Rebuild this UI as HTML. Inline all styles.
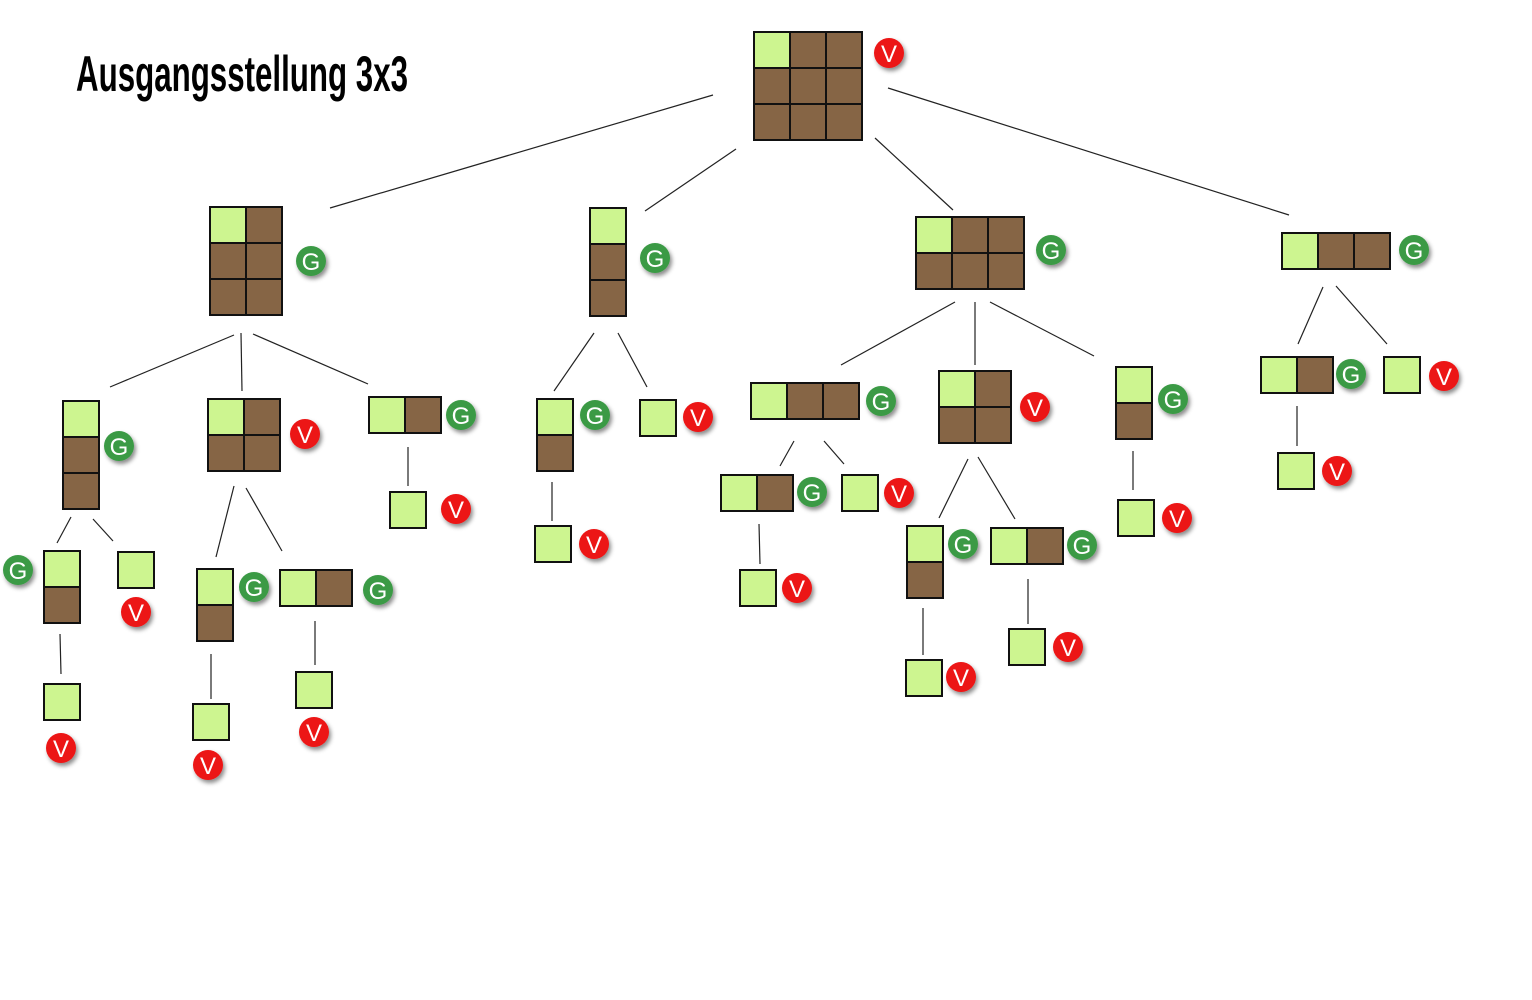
<!DOCTYPE html>
<html><head><meta charset="utf-8"><style>body{margin:0;background:#fff}svg{display:block}</style></head><body>
<svg width="1532" height="1000" viewBox="0 0 1532 1000" xmlns="http://www.w3.org/2000/svg">
<defs>
<filter id="sh" x="-50%" y="-50%" width="200%" height="200%"><feDropShadow dx="2" dy="3" stdDeviation="2" flood-color="#000" flood-opacity="0.45"/></filter>
<g id="gc"><rect width="36" height="36" fill="#cdf590" stroke="#111" stroke-width="2"/></g>
<g id="bc"><rect width="36" height="36" fill="#866545" stroke="#111" stroke-width="2"/></g>
</defs>
<text x="76" y="91" font-family="'Liberation Sans Narrow','Liberation Sans',sans-serif" font-weight="bold" font-size="50" textLength="332" lengthAdjust="spacingAndGlyphs" fill="#000">Ausgangsstellung 3x3</text>
<g stroke="#222" stroke-width="1.2" fill="none">
<line x1="713" y1="95" x2="330" y2="208"/><line x1="736" y1="149" x2="645" y2="211"/><line x1="875" y1="138" x2="953" y2="210"/><line x1="888" y1="88" x2="1289" y2="215"/>
<line x1="234" y1="335" x2="110" y2="387"/><line x1="241" y1="333" x2="242" y2="391"/><line x1="253" y1="334" x2="368" y2="384"/>
<line x1="594" y1="333" x2="554" y2="391"/><line x1="618" y1="333" x2="647" y2="387"/>
<line x1="955" y1="302" x2="841" y2="365"/><line x1="975" y1="302" x2="975" y2="365"/><line x1="990" y1="302" x2="1094" y2="356"/>
<line x1="1323" y1="287" x2="1298" y2="344"/><line x1="1336" y1="286" x2="1387" y2="344"/>
<line x1="71" y1="517" x2="57" y2="543"/><line x1="93" y1="519" x2="113" y2="541"/>
<line x1="60" y1="634" x2="61" y2="674"/>
<line x1="234" y1="486" x2="216" y2="557"/><line x1="246" y1="488" x2="282" y2="551"/>
<line x1="211" y1="654" x2="211" y2="699"/><line x1="315" y1="621" x2="315" y2="665"/>
<line x1="408" y1="447" x2="408" y2="486"/><line x1="552" y1="482" x2="552" y2="521"/>
<line x1="794" y1="441" x2="780" y2="466"/><line x1="824" y1="441" x2="844" y2="464"/>
<line x1="759" y1="524" x2="760" y2="564"/>
<line x1="968" y1="459" x2="939" y2="518"/><line x1="978" y1="457" x2="1015" y2="519"/>
<line x1="923" y1="608" x2="923" y2="655"/><line x1="1028" y1="579" x2="1028" y2="624"/>
<line x1="1133" y1="451" x2="1133" y2="490"/><line x1="1297" y1="406" x2="1297" y2="446"/>
</g>
<g>
<use href="#gc" x="754" y="32"/><use href="#bc" x="790" y="32"/><use href="#bc" x="826" y="32"/>
<use href="#bc" x="754" y="68"/><use href="#bc" x="790" y="68"/><use href="#bc" x="826" y="68"/>
<use href="#bc" x="754" y="104"/><use href="#bc" x="790" y="104"/><use href="#bc" x="826" y="104"/>
<use href="#gc" x="210" y="207"/><use href="#bc" x="246" y="207"/>
<use href="#bc" x="210" y="243"/><use href="#bc" x="246" y="243"/>
<use href="#bc" x="210" y="279"/><use href="#bc" x="246" y="279"/>
<use href="#gc" x="590" y="208"/><use href="#bc" x="590" y="244"/><use href="#bc" x="590" y="280"/>
<use href="#gc" x="916" y="217"/><use href="#bc" x="952" y="217"/><use href="#bc" x="988" y="217"/>
<use href="#bc" x="916" y="253"/><use href="#bc" x="952" y="253"/><use href="#bc" x="988" y="253"/>
<use href="#gc" x="1282" y="233"/><use href="#bc" x="1318" y="233"/><use href="#bc" x="1354" y="233"/>
<use href="#gc" x="63" y="401"/><use href="#bc" x="63" y="437"/><use href="#bc" x="63" y="473"/>
<use href="#gc" x="208" y="399"/><use href="#bc" x="244" y="399"/><use href="#bc" x="208" y="435"/><use href="#bc" x="244" y="435"/>
<use href="#gc" x="369" y="397"/><use href="#bc" x="405" y="397"/>
<use href="#gc" x="390" y="492"/>
<use href="#gc" x="44" y="551"/><use href="#bc" x="44" y="587"/>
<use href="#gc" x="118" y="552"/>
<use href="#gc" x="44" y="684"/>
<use href="#gc" x="197" y="569"/><use href="#bc" x="197" y="605"/>
<use href="#gc" x="280" y="570"/><use href="#bc" x="316" y="570"/>
<use href="#gc" x="193" y="704"/>
<use href="#gc" x="296" y="672"/>
<use href="#gc" x="537" y="399"/><use href="#bc" x="537" y="435"/>
<use href="#gc" x="640" y="400"/>
<use href="#gc" x="535" y="526"/>
<use href="#gc" x="751" y="383"/><use href="#bc" x="787" y="383"/><use href="#bc" x="823" y="383"/>
<use href="#gc" x="939" y="371"/><use href="#bc" x="975" y="371"/><use href="#bc" x="939" y="407"/><use href="#bc" x="975" y="407"/>
<use href="#gc" x="1116" y="367"/><use href="#bc" x="1116" y="403"/>
<use href="#gc" x="721" y="475"/><use href="#bc" x="757" y="475"/>
<use href="#gc" x="842" y="475"/>
<use href="#gc" x="740" y="570"/>
<use href="#gc" x="907" y="526"/><use href="#bc" x="907" y="562"/>
<use href="#gc" x="991" y="528"/><use href="#bc" x="1027" y="528"/>
<use href="#gc" x="906" y="660"/>
<use href="#gc" x="1009" y="629"/>
<use href="#gc" x="1118" y="500"/>
<use href="#gc" x="1261" y="357"/><use href="#bc" x="1297" y="357"/>
<use href="#gc" x="1384" y="357"/>
<use href="#gc" x="1278" y="453"/>
</g>
<g font-family="'Liberation Sans Narrow','Liberation Sans',sans-serif" font-size="24" fill="#fff" text-anchor="middle">
<g filter="url(#sh)">
<circle cx="889" cy="53" r="15" fill="#ec1414"/><circle cx="311" cy="261" r="15" fill="#3a9a45"/><circle cx="655" cy="258" r="15" fill="#3a9a45"/>
<circle cx="1051" cy="250" r="15" fill="#3a9a45"/><circle cx="1414" cy="250" r="15" fill="#3a9a45"/>
<circle cx="119" cy="446" r="15" fill="#3a9a45"/><circle cx="305" cy="434" r="15" fill="#ec1414"/><circle cx="461" cy="415" r="15" fill="#3a9a45"/>
<circle cx="456" cy="509" r="15" fill="#ec1414"/><circle cx="18" cy="570" r="15" fill="#3a9a45"/><circle cx="136" cy="612" r="15" fill="#ec1414"/>
<circle cx="61" cy="748" r="15" fill="#ec1414"/><circle cx="254" cy="587" r="15" fill="#3a9a45"/><circle cx="378" cy="590" r="15" fill="#3a9a45"/>
<circle cx="208" cy="765" r="15" fill="#ec1414"/><circle cx="314" cy="732" r="15" fill="#ec1414"/>
<circle cx="595" cy="415" r="15" fill="#3a9a45"/><circle cx="698" cy="417" r="15" fill="#ec1414"/><circle cx="594" cy="544" r="15" fill="#ec1414"/>
<circle cx="881" cy="401" r="15" fill="#3a9a45"/><circle cx="1035" cy="407" r="15" fill="#ec1414"/><circle cx="1173" cy="399" r="15" fill="#3a9a45"/>
<circle cx="812" cy="492" r="15" fill="#3a9a45"/><circle cx="899" cy="493" r="15" fill="#ec1414"/><circle cx="797" cy="588" r="15" fill="#ec1414"/>
<circle cx="963" cy="544" r="15" fill="#3a9a45"/><circle cx="1082" cy="545" r="15" fill="#3a9a45"/>
<circle cx="961" cy="677" r="15" fill="#ec1414"/><circle cx="1068" cy="647" r="15" fill="#ec1414"/><circle cx="1177" cy="518" r="15" fill="#ec1414"/>
<circle cx="1351" cy="374" r="15" fill="#3a9a45"/><circle cx="1444" cy="376" r="15" fill="#ec1414"/><circle cx="1337" cy="471" r="15" fill="#ec1414"/>
</g>
<text x="889" y="62">V</text><text x="311" y="270">G</text><text x="655" y="267">G</text>
<text x="1051" y="259">G</text><text x="1414" y="259">G</text>
<text x="119" y="455">G</text><text x="305" y="443">V</text><text x="461" y="424">G</text>
<text x="456" y="518">V</text><text x="18" y="579">G</text><text x="136" y="621">V</text>
<text x="61" y="757">V</text><text x="254" y="596">G</text><text x="378" y="599">G</text>
<text x="208" y="774">V</text><text x="314" y="741">V</text>
<text x="595" y="424">G</text><text x="698" y="426">V</text><text x="594" y="553">V</text>
<text x="881" y="410">G</text><text x="1035" y="416">V</text><text x="1173" y="408">G</text>
<text x="812" y="501">G</text><text x="899" y="502">V</text><text x="797" y="597">V</text>
<text x="963" y="553">G</text><text x="1082" y="554">G</text>
<text x="961" y="686">V</text><text x="1068" y="656">V</text><text x="1177" y="527">V</text>
<text x="1351" y="383">G</text><text x="1444" y="385">V</text><text x="1337" y="480">V</text>
</g>
</svg>
</body></html>
